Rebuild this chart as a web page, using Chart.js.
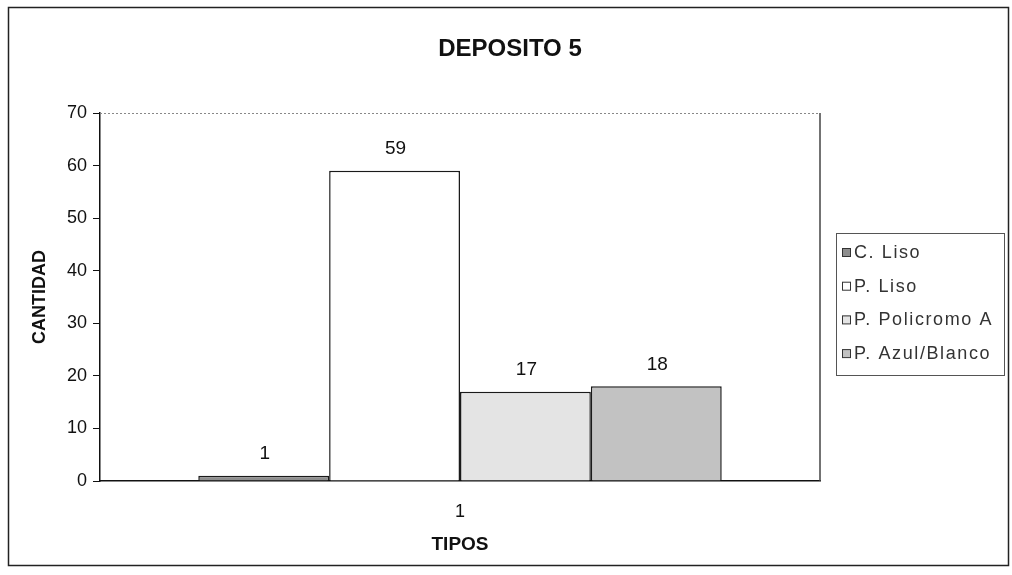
<!DOCTYPE html>
<html>
<head>
<meta charset="utf-8">
<script src="https://cdn.jsdelivr.net/npm/chart.js@4.4.1/dist/chart.umd.min.js"></script>
<style>
html,body{margin:0;padding:0;background:#fff;}
#wrap{width:1012px;height:575px;position:relative;}
</style>
</head>
<body>
<div id="wrap"><canvas id="c" width="1012" height="575"></canvas></div>
<script>
const chartTitle = "DEPOSITO 5";
const categories = ["1"];
const seriesNames = ["C. Liso", "P. Liso", "P. Policromo A", "P. Azul/Blanco"];
const cLiso = [1];
const pLiso = [59];
const pPolicromo = [17];
const pAzulBlanco = [18];
const yTicks = [0, 10, 20, 30, 40, 50, 60, 70];
const seriesColors = ["#8e8e8e", "#ffffff", "#e4e4e4", "#c2c2c2"];

const FONT = "'Liberation Sans', Arial, sans-serif";
const TEXT = "#111";

const frameAndExtras = {
  id: 'frameAndExtras',
  afterDraw(chart) {
    const ctx = chart.ctx;
    const a = chart.chartArea;
    ctx.save();
    // outer frame
    ctx.strokeStyle = "#222";
    ctx.lineWidth = 1.5;
    ctx.strokeRect(8.5, 7.5, 1000, 558);
    // chart title (centred on the whole frame)
    ctx.fillStyle = TEXT;
    ctx.font = "bold 24px " + FONT;
    ctx.textAlign = "center";
    ctx.textBaseline = "middle";
    ctx.fillText(chartTitle, 510, 49);
    // top dotted border of plot
    ctx.strokeStyle = "#888";
    ctx.lineWidth = 1;
    ctx.setLineDash([2, 2]);
    ctx.beginPath();
    ctx.moveTo(a.left, a.top + 0.5);
    ctx.lineTo(a.right, a.top + 0.5);
    ctx.stroke();
    ctx.setLineDash([]);
    // right border
    ctx.strokeStyle = "#444";
    ctx.lineWidth = 1.5;
    ctx.beginPath();
    ctx.moveTo(a.right, a.top);
    ctx.lineTo(a.right, a.bottom);
    ctx.stroke();
    // data labels
    ctx.fillStyle = TEXT;
    ctx.font = "19px " + FONT;
    ctx.textAlign = "center";
    ctx.textBaseline = "middle";
    chart.data.datasets.forEach((ds, i) => {
      const meta = chart.getDatasetMeta(i);
      meta.data.forEach((el, j) => {
        ctx.fillText(String(ds.data[j]), el.x + 1, el.y - 22);
      });
    });
    // legend
    const lx = 836, ly = 233, lw = 168, lh = 142;
    ctx.strokeStyle = "#555";
    ctx.lineWidth = 1;
    ctx.strokeRect(lx + 0.5, ly + 0.5, lw, lh);
    ctx.font = "18px " + FONT;
    ctx.textAlign = "left";
    try { ctx.letterSpacing = "1.6px"; } catch (e) {}
    chart.data.datasets.forEach((ds, i) => {
      const cy = 252 + i * 33.7;
      ctx.fillStyle = ds.backgroundColor;
      ctx.fillRect(842, cy - 4, 8, 8);
      ctx.strokeStyle = "#333";
      ctx.lineWidth = 1;
      ctx.strokeRect(842.5, cy - 3.5, 8, 8);
      ctx.fillStyle = "#333";
      ctx.fillText(ds.label, 854, cy + 1);
    });
    ctx.restore();
  }
};

const mk = (i, data) => ({
  label: seriesNames[i],
  data: data,
  backgroundColor: seriesColors[i],
  borderColor: "#1a1a1a",
  borderWidth: 1.5,
  categoryPercentage: 0.727,
  barPercentage: 1.0
});

new Chart(document.getElementById('c'), {
  type: 'bar',
  data: {
    labels: categories,
    datasets: [mk(0, cLiso), mk(1, pLiso), mk(2, pPolicromo), mk(3, pAzulBlanco)]
  },
  options: {
    responsive: false,
    animation: false,
    devicePixelRatio: 1,
    layout: { padding: { left: 14, right: 192, top: 113, bottom: 12 } },
    plugins: {
      legend: { display: false },
      tooltip: { enabled: false },
      title: { display: false }
    },
    scales: {
      x: {
        afterFit(s) { s.height = 82; },
        grid: { display: false },
        border: { display: true, color: "#111", width: 1.5 },
        ticks: { color: TEXT, font: { family: FONT, size: 18 }, padding: 12 },
        title: {
          display: true, text: "TIPOS", color: TEXT,
          font: { family: FONT, size: 19, weight: 'bold' },
          padding: { top: 4, bottom: 7 }
        }
      },
      y: {
        min: 0, max: 70,
        afterFit(s) { s.width = 86; },
        afterBuildTicks(s) { s.ticks = yTicks.map(v => ({ value: v })); },
        grid: { drawOnChartArea: false, drawTicks: true, tickLength: 7, color: "#111", lineWidth: 1 },
        border: { display: true, color: "#111", width: 1.5 },
        ticks: { color: TEXT, font: { family: FONT, size: 18 }, padding: 6 },
        title: {
          display: true, text: "CANTIDAD", color: TEXT,
          font: { family: FONT, size: 18, weight: 'bold' },
          padding: { top: 15, bottom: 4 }
        }
      }
    }
  },
  plugins: [frameAndExtras]
});
</script>
</body>
</html>
